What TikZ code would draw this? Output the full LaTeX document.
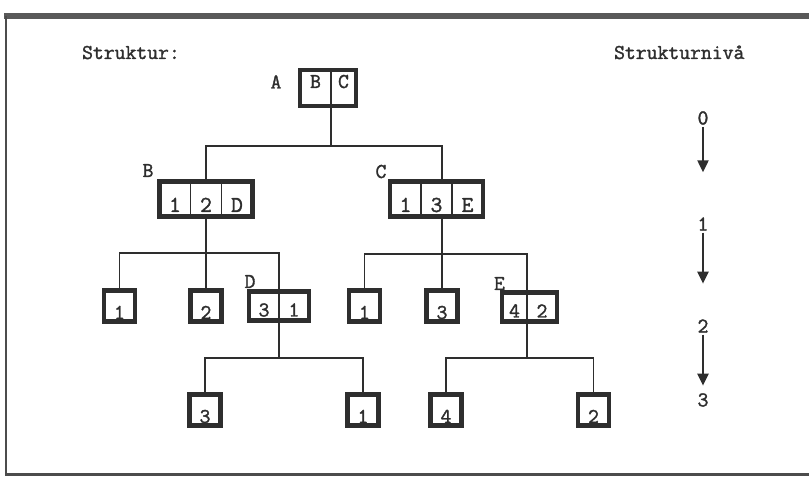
\documentclass[tikz,border=0pt]{standalone}
\usepackage{fontspec}
\usepackage{tikz}
\usetikzlibrary{positioning,arrows.meta}
\newfontfamily\typew{Latin Modern Mono}[FakeBold=1.6]
\definecolor{ink}{gray}{0.18}
\tikzset{
  wire/.style={draw=ink, line width=1pt},
  rim/.style={draw=ink, line width=2.4pt},
  cell/.style={draw=ink, text=ink, line width=0.9pt, inner sep=0pt, outer sep=0pt,
    minimum width=0.62cm, minimum height=0.7cm, text height=0.61cm, text depth=0.09cm,
    font=\fontsize{13}{15}\selectfont\typew},
  topcell/.style={cell, minimum height=0.72cm, text height=0.36cm, text depth=0.36cm,
    font=\fontsize{12}{14}\selectfont\typew},
  lowcell/.style={cell, minimum width=0.6cm, minimum height=0.58cm, text height=0.5cm,
    text depth=0.08cm, font=\fontsize{12}{14}\selectfont\typew},
  leaf/.style={rim, text=ink, inner sep=0pt, minimum size=0.62cm, text height=0.57cm,
    text depth=0.05cm, font=\fontsize{12}{14}\selectfont\typew},
  tag/.style={text=ink, inner sep=1pt, font=\fontsize{12}{14}\selectfont\typew},
  drop/.style={draw=ink, line width=1.3pt, -{Triangle[length=0.24cm,width=0.22cm]}},
}

\begin{document}
\begin{tikzpicture}
\useasboundingbox (0,0) rectangle (16.18,9.54);
\draw[line width=3.4pt, black!65] (0.08,9.22) -- (16.18,9.22);
\draw[line width=1.3pt, black!70] (0.12,9.22) -- (0.12,0.05) -- (16.18,0.05);

\node[tag, anchor=base west] (title) at (1.6,8.36) {Struktur:};
\node[tag, anchor=base west] (levels) at (12.24,8.36) {Strukturnivå};

% records
\node[topcell] (A1) at (6.31,7.78) {B};
\node[topcell, minimum width=0.5cm, right=0pt of A1] (A2) {C};
\draw[rim] (A1.north west) rectangle (A2.south east);

\node[cell] (B1) at (3.5,5.56) {1};
\node[cell, right=0pt of B1] (B2) {2};
\node[cell, right=0pt of B2] (B3) {D};
\draw[rim] (B1.north west) rectangle (B3.south east);

\node[cell] (C1) at (8.11,5.56) {1};
\node[cell, right=0pt of C1] (C2) {3};
\node[cell, right=0pt of C2] (C3) {E};
\draw[rim] (C1.north west) rectangle (C3.south east);

\node[lowcell] (D1) at (5.28,3.42) {3};
\node[lowcell, right=0pt of D1] (D2) {1};
\draw[rim] (D1.north west) rectangle (D2.south east);

\node[lowcell, minimum width=0.5cm] (E1) at (10.29,3.40) {4};
\node[lowcell, right=0pt of E1] (E2) {2};
\draw[rim] (E1.north west) rectangle (E2.south east);

\node[leaf] (b1) at (2.39,3.42) {1};
\node[leaf] (b2) at (4.12,3.42) {2};
\node[leaf] (c1) at (7.29,3.42) {1};
\node[leaf] (c3) at (8.84,3.42) {3};
\node[leaf] (d3) at (4.10,1.34) {3};
\node[leaf] (d1) at (7.26,1.34) {1};
\node[leaf] (e4) at (8.92,1.34) {4};
\node[leaf] (e2) at (11.87,1.34) {2};

\node[tag, anchor=base] (nameA) at (5.52,7.77) {A};
\node[tag, anchor=base] (nameB) at (2.96,6.0) {B};
\node[tag, anchor=base] (nameC) at (7.62,5.98) {C};
\node[tag, anchor=base] (nameD) at (5.0,3.78) {D};
\node[tag, anchor=base] (nameE) at (9.99,3.74) {E};

% tree lines
\draw[wire] (A1.south east) -- ++(0,-0.8) coordinate (jA);
\draw[wire] (B2.north) |- (jA) -| (c3 |- C2.north);
\draw[wire] (B2.south) -- (b2.north);
\draw[wire] (b1.north) -- ++(0,0.71) -| (D1.north east);
\draw[wire] (c3.north) -- (c3 |- C2.south);
\draw[wire] (c1.north) -- ++(0,0.69) -| (E1.north east);
\draw[wire] (D1.south east) -- ++(0,-0.75) coordinate (jD);
\draw[wire] (d3.north) |- (jD) -| (d1.north);
\draw[wire] (E1.south east) -- ++(0,-0.73) coordinate (jE);
\draw[wire] (e4.north) |- (jE) -| (e2.north);

% levels
\node[tag] (lv0) at (14.06,7.18) {0};
\node[tag] (lv1) at (14.06,5.06) {1};
\node[tag] (lv2) at (14.06,3.02) {2};
\node[tag] (lv3) at (14.06,1.54) {3};
\draw[drop] (lv0.south) -- ++(0,-0.91);
\draw[drop] (lv1.south) -- ++(0,-1.02);
\draw[drop] (lv2.south) -- ++(0,-1.02);
\end{tikzpicture}
\end{document}
